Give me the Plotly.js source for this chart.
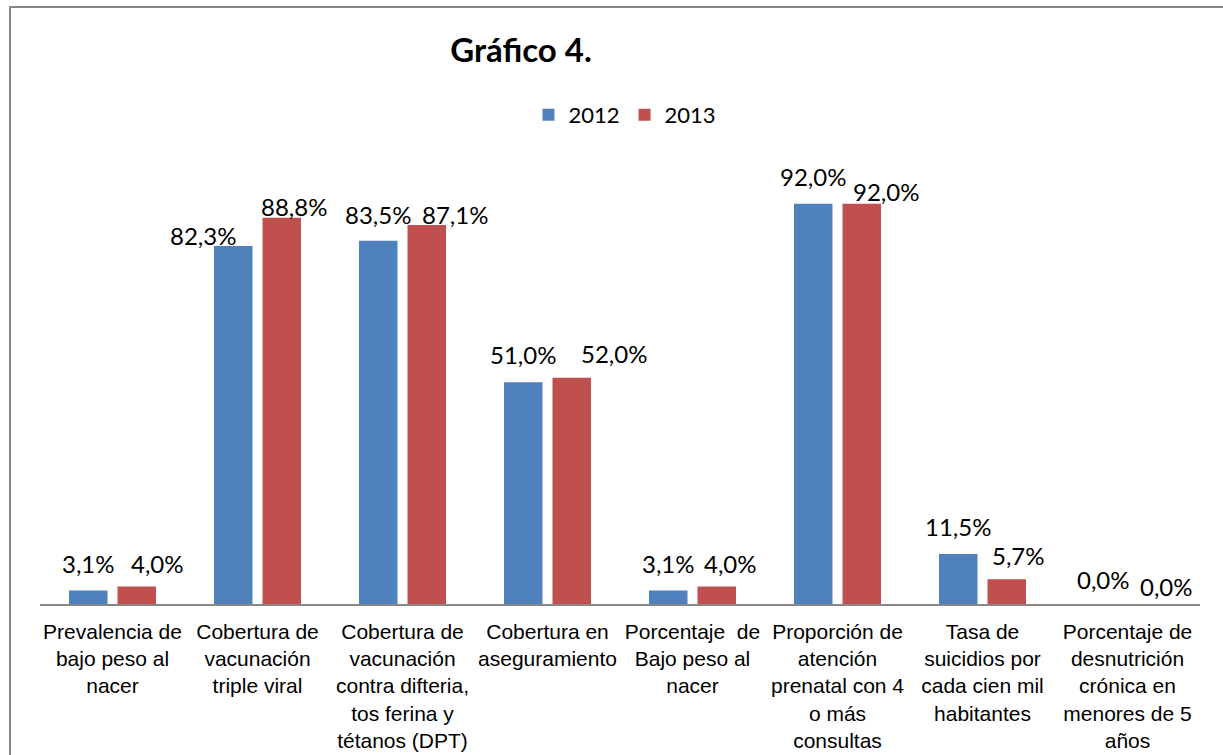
<!DOCTYPE html>
<html><head><meta charset="utf-8">
<script src="https://cdn.plot.ly/plotly-3.0.1.min.js"></script>
<style>
html,body{margin:0;padding:0;background:#fff;width:1223px;height:755px;overflow:hidden;}
#frame{position:absolute;left:9px;top:6px;width:1300px;height:800px;border-left:2px solid #868686;border-top:2px solid #868686;box-sizing:border-box;}
#chart{position:absolute;left:0;top:0;width:1223px;height:755px;}
</style></head><body>
<div id="frame"></div>
<div id="chart"></div>
<script>
// ---- data ----
const categories = [
  'Prevalencia de<br>bajo peso al<br>nacer',
  'Cobertura de<br>vacunación<br>triple viral',
  'Cobertura de<br>vacunación<br>contra difteria,<br>tos ferina y<br>tétanos (DPT)',
  'Cobertura en<br>aseguramiento',
  'Porcentaje  de<br>Bajo peso al<br>nacer',
  'Proporción de<br>atención<br>prenatal con 4<br>o más<br>consultas',
  'Tasa de<br>suicidios por<br>cada cien mil<br>habitantes',
  'Porcentaje de<br>desnutrición<br>crónica en<br>menores de 5<br>años'
];
const values2012 = [3.1, 82.3, 83.5, 51.0, 3.1, 92.0, 11.5, 0.0];
const values2013 = [4.0, 88.8, 87.1, 52.0, 4.0, 92.0, 5.7, 0.0];
const seriesNames = ['2012', '2013'];
const chartTitle = 'Gráfico 4.';

// ---- styling ----
const COLORS = ['#4F81BD', '#C0504D'];
const BARGAP = 0.331, BARGROUPGAP = 0.206;
// pixel nudges of data labels (reproducing the reference's label placement)
const nudgeX = [[0, -30, 0, 0, 0, 0, 0, 0], [21, 12, 28, 42, 14, 24, 12, 15]];
const nudgeY = [[0, -16, -1, 1, 0, 0, 0, -2], [-4, -16, -16, -3, -4, -15, -3, -9]];
const LABEL_LIFT = 27;

const fmt = v => v.toFixed(1).replace('.', ',') + '%';
const series = [values2012, values2013];

const traces = series.map((vals, s) => ({
  type: 'bar', name: seriesNames[s], x: categories, y: vals,
  marker: {color: COLORS[s], line: {width: 0}},
  hoverinfo: 'x+y'
}));

const off = (1 - BARGAP) / 4;
const annotations = [];
series.forEach((vals, s) => {
  vals.forEach((v, i) => {
    annotations.push({
      xref: 'x', yref: 'y', x: i + (s === 0 ? -off : off), y: v,
      text: fmt(v), showarrow: false, xanchor: 'center', yanchor: 'middle',
      xshift: nudgeX[s][i], yshift: LABEL_LIFT + nudgeY[s][i],
      font: {family: 'Lato, Carlito, sans-serif', size: 24, color: '#000'}
    });
  });
});

const layout = {
  width: 1223, height: 755,
  margin: {l: 40, r: 23, t: 169, b: 151, pad: 0},
  paper_bgcolor: 'rgba(0,0,0,0)', plot_bgcolor: 'rgba(0,0,0,0)',
  barmode: 'group', bargap: BARGAP, bargroupgap: BARGROUPGAP,
  title: {
    text: chartTitle, xref: 'container', yref: 'container',
    x: 521 / 1223, y: 1 - 50 / 755, xanchor: 'center', yanchor: 'middle',
    font: {family: 'Lato, Carlito, sans-serif', size: 33, weight: 700, color: '#000'}
  },
  showlegend: true,
  legend: {
    orientation: 'h', xref: 'container', yref: 'container',
    x: 625 / 1223, y: 1 - 115 / 755, xanchor: 'center', yanchor: 'middle',
    font: {family: 'Lato, Carlito, sans-serif', size: 22, color: '#000'},
    bgcolor: 'rgba(0,0,0,0)'
  },
  xaxis: {
    type: 'category', showline: true, linecolor: '#888888', linewidth: 1.5,
    ticks: '', showgrid: false, zeroline: false,
    tickfont: {family: 'Liberation Sans, Arial, sans-serif', size: 21, color: '#000'},
    tickangle: 0, automargin: false, ticklabelstandoff: 8
  },
  yaxis: {
    range: [0, 100], visible: false, showgrid: false, zeroline: false, fixedrange: true
  },
  annotations: annotations
};

Plotly.newPlot('chart', traces, layout, {displayModeBar: false, staticPlot: true});
</script>
</body></html>
